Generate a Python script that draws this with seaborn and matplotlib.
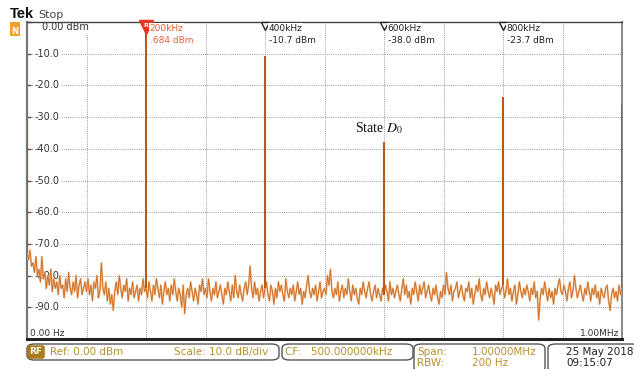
import numpy as np
import pandas as pd
import matplotlib
matplotlib.use("Agg")
import matplotlib.pyplot as plt
import matplotlib.transforms as mtransforms
from matplotlib.patches import FancyBboxPatch
import seaborn as sns

# ---------------- data ----------------
step_khz = 2.5
noise_dbm = [
    -73, -75, -72, -77, -76, -79, -74, -80, -78, -82, -74, -81, -79, -84, -80, -83, -78, -85, -81, -84,
    -82, -86, -80, -84, -83, -87, -81, -85, -79, -84, -86, -82, -85, -80, -87, -83, -81, -86, -84, -82,
    -85, -81, -86, -83, -88, -82, -84, -80, -87, -85, -76, -84, -86, -82, -88, -84, -89, -86, -91, -85,
    -82, -86, -80, -84, -87, -83, -85, -81, -88, -84, -86, -82, -87, -85, -83, -88, -84, -86, -81, -85,
    -84, -87, -82, -85, -88, -83, -86, -81, -84, -87, -83, -89, -85, -82, -86, -84, -88, -83, -86, -81,
    -85, -88, -84, -86, -90, -83, -92, -86, -84, -87, -82, -85, -88, -84, -86, -89, -83, -85, -81, -86,
    -84, -87, -81, -85, -88, -84, -86, -82, -87, -85, -83, -86, -89, -84, -86, -82, -85, -88, -83, -87,
    -80, -85, -87, -83, -86, -88, -84, -82, -86, -83, -77, -84, -87, -82, -86, -84, -88, -85, -83, -87,
    -84, -82, -86, -88, -83, -85, -89, -84, -87, -82, -85, -83, -86, -88, -81, -85, -87, -84, -86, -83,
    -88, -85, -82, -86, -84, -89, -85, -87, -83, -80, -85, -87, -84, -86, -83, -88, -85, -82, -87, -85,
    -84, -86, -80, -83, -78, -85, -87, -84, -86, -82, -88, -85, -83, -87, -84, -86, -81, -85, -88, -83,
    -86, -84, -87, -89, -84, -86, -82, -85, -87, -84, -82, -86, -88, -85, -83, -87, -84, -86, -88, -84,
    -86, -83, -85, -88, -82, -86, -84, -87, -85, -83, -86, -88, -84, -81, -86, -83, -87, -85, -89, -84,
    -86, -82, -85, -88, -83, -86, -84, -82, -87, -85, -83, -86, -88, -84, -86, -83, -87, -89, -85, -87,
    -83, -86, -79, -84, -86, -83, -88, -85, -84, -82, -87, -85, -83, -86, -88, -84, -85, -82, -87, -84,
    -89, -86, -83, -85, -81, -86, -88, -84, -86, -82, -85, -87, -84, -86, -89, -83, -85, -82, -86, -84,
    -83, -87, -85, -81, -86, -84, -88, -85, -83, -89, -86, -82, -85, -87, -84, -86, -83, -85, -88, -84,
    -86, -82, -87, -85, -94, -87, -84, -86, -82, -85, -88, -84, -87, -85, -89, -84, -86, -83, -81, -85,
    -86, -83, -85, -88, -84, -82, -87, -85, -80, -84, -87, -85, -83, -86, -88, -84, -86, -82, -85, -88,
    -84, -86, -83, -87, -85, -89, -84, -86, -87, -84, -83, -88, -91, -86, -84, -87, -85, -88, -83, -86,
    -84,
]
noise_freq_khz = np.arange(len(noise_dbm)) * step_khz

peak_freq_khz = [0, 200, 400, 600, 800, 1000]
peak_dbm = [-30.5, 0.684, -10.7, -38.0, -23.7, -26.0]

marker_freq_khz = [200, 400, 600, 800]
marker_freq_text = ["200kHz", "400kHz", "600kHz", "800kHz"]
marker_level_text = [".684 dBm", "-10.7 dBm", "-38.0 dBm", "-23.7 dBm"]

ytick_values = [0, -10, -20, -30, -40, -50, -60, -70, -80, -90]
ytick_labels = ["0.00 dBm", "-10.0", "-20.0", "-30.0", "-40.0", "-50.0",
                "-60.0", "-70.0", "-80.0", "-90.0"]
xtick_values = list(range(0, 1001, 100))

# ---------------- style ----------------
sns.set_theme(style="white")
plt.rcParams["font.family"] = ["DejaVu Sans"]
plt.rcParams["mathtext.fontset"] = "stix"

W, H = 634, 369
fig = plt.figure(figsize=(W / 100, H / 100), dpi=100)
fig.patch.set_facecolor("white")

def fx(px):
    return px / W

def fy(py):
    return 1 - py / H

ax = fig.add_axes([fx(27), fy(339), fx(622) - fx(27), fy(22) - fy(339)])
ax.set_facecolor("white")

df = pd.DataFrame({"freq": noise_freq_khz, "dbm": noise_dbm})
sns.lineplot(data=df, x="freq", y="dbm", ax=ax, color="#ebb989", linewidth=1.4, zorder=3)
sns.lineplot(data=df, x="freq", y="dbm", ax=ax, color="#cf6d25", linewidth=0.6, zorder=3)

# peaks drawn as vertical spectral lines from floor
n = len(noise_dbm)
floor_at_peak = [noise_dbm[min(int(round(f / step_khz)), n - 1)] for f in peak_freq_khz]
ax.vlines(peak_freq_khz, floor_at_peak, peak_dbm, colors="#b85a14", linewidth=1.5, zorder=4)

ax.set_xlim(0, 1000)
ax.set_ylim(-100, 0)
ax.set_xticks(xtick_values)
ax.set_yticks(ytick_values)
ax.set_xticklabels([])
ax.set_yticklabels([])
ax.set_xlabel("")
ax.set_ylabel("")
ax.tick_params(axis="y", direction="in", length=3, width=1, color="#555555", left=True)
ax.tick_params(axis="x", length=0)
ax.grid(True, color="#9a9a9a", linestyle=(0, (1, 1.2)), linewidth=0.7, zorder=1)

for side, col, lw in [("left", "#777777", 1.6), ("right", "#888888", 1.4),
                      ("top", "#444444", 1.0), ("bottom", "#222222", 2.2)]:
    ax.spines[side].set_visible(True)
    ax.spines[side].set_color(col)
    ax.spines[side].set_linewidth(lw)

# y labels inside plot area (trace drawn over them)
trans = mtransforms.blended_transform_factory(ax.transAxes, ax.transData)
for v, lab in zip(ytick_values, ytick_labels):
    if v == 0:
        ax.text(0.025, -1.6, lab, transform=trans, ha="left", va="center", fontsize=7,
                color="#333333", zorder=2,
                bbox=dict(boxstyle="square,pad=0.15", fc="white", ec="none"))
    else:
        ax.text(0.013, v, lab, transform=trans, ha="left", va="center", fontsize=7,
                color="#333333", zorder=2,
                bbox=dict(boxstyle="square,pad=0.15", fc="white", ec="none"))

ax.text(0.005, -98.3, "0.00 Hz", transform=trans, ha="left", va="center", fontsize=6.5,
        color="#333333", zorder=5)
ax.text(0.995, -98.3, "1.00MHz", transform=trans, ha="right", va="center", fontsize=6.5,
        color="#333333", zorder=5)

# markers
for i, (f, t1, t2) in enumerate(zip(marker_freq_khz, marker_freq_text, marker_level_text)):
    if i == 0:
        ax.plot([f], [-1.5], marker="v", markersize=10, color="#e8352a", clip_on=False, zorder=6)
        ax.text(f, -1.0, "R", ha="center", va="center", fontsize=4.5, color="white",
                fontweight="bold", zorder=7)
        c = "#e8603c"
    else:
        ax.plot([f], [-1.2], marker="v", markersize=6, markerfacecolor="white",
                markeredgecolor="#222222", markeredgewidth=1.0, clip_on=False, zorder=6)
        c = "#222222"
    ax.text(f + 6, -2.0, t1, ha="left", va="center", fontsize=6.5, color=c, zorder=6,
            bbox=dict(boxstyle="square,pad=0.1", fc="white", ec="none"))
    ax.text(f + 6, -5.8, t2, ha="left", va="center", fontsize=6.5, color=c, zorder=6,
            bbox=dict(boxstyle="square,pad=0.1", fc="white", ec="none"))

ax.text(551, -33.5, "State $D_0$", ha="left", va="center", fontsize=10,
        family=["Liberation Serif", "DejaVu Serif"], color="#111111", zorder=6)

# header
fig.text(fx(10), fy(14), "Tek", fontsize=10.5, fontweight="bold", color="#111111",
         ha="left", va="center", family=["Liberation Sans", "DejaVu Sans"])
fig.text(fx(38), fy(15), "Stop", fontsize=8, color="#444444", ha="left", va="center")
fig.patches.append(FancyBboxPatch((fx(10), fy(36)), fx(10), fy(22) - fy(36),
                                  boxstyle="square,pad=0", fc="#f0a030", ec="none",
                                  transform=fig.transFigure, figure=fig))
fig.text(fx(15), fy(32), "N", fontsize=6, color="white", fontweight="bold",
         ha="center", va="center")

# status bar
gold = "#b8912f"
def box(x0, y0, x1, y1):
    fig.patches.append(FancyBboxPatch((fx(x0), fy(y1)), fx(x1) - fx(x0), fy(y0) - fy(y1),
                                      boxstyle="round,pad=0,rounding_size=0.012",
                                      fc="white", ec="#555555", lw=1.0,
                                      transform=fig.transFigure, figure=fig))

box(27, 344, 279, 360)
box(282, 344, 413, 360)
box(414, 344, 545, 372)
box(548, 344, 640, 372)

fig.text(fx(36), fy(352), "RF", fontsize=6.5, color="white", fontweight="bold",
         ha="center", va="center",
         bbox=dict(boxstyle="round,pad=0.25", fc="#a87a1c", ec="none"))
fig.text(fx(50), fy(352), "Ref: 0.00 dBm", fontsize=7.5, color=gold, ha="left", va="center")
fig.text(fx(174), fy(352), "Scale: 10.0 dB/div", fontsize=7.5, color=gold, ha="left", va="center")
fig.text(fx(285), fy(352), "CF:   500.000000kHz", fontsize=7.5, color=gold, ha="left", va="center")
fig.text(fx(417), fy(352), "Span:", fontsize=7.5, color=gold, ha="left", va="center")
fig.text(fx(472), fy(352), "1.00000MHz", fontsize=7.5, color=gold, ha="left", va="center")
fig.text(fx(417), fy(363), "RBW:", fontsize=7.5, color=gold, ha="left", va="center")
fig.text(fx(472), fy(363), "200 Hz", fontsize=7.5, color=gold, ha="left", va="center")
fig.text(fx(566), fy(352), "25 May 2018", fontsize=7.5, color="#222222", ha="left", va="center")
fig.text(fx(566), fy(363), "09:15:07", fontsize=7.5, color="#222222", ha="left", va="center")

fig.savefig("out.png", dpi=100, facecolor="white")
